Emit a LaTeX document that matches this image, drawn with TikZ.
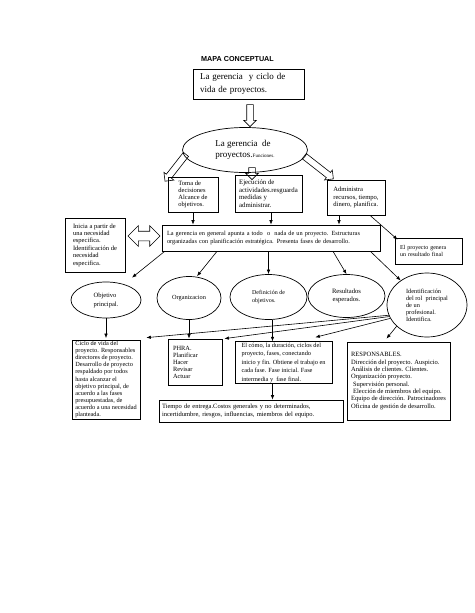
\documentclass[tikz,border=0pt]{standalone}
\usepackage{fontspec}
\setmainfont{Liberation Serif}
\newfontfamily\titulofont{Liberation Sans}
\usepackage{tikz}
\usetikzlibrary{arrows.meta,positioning,shapes.geometric,shapes.arrows,calc}
\newcommand{\tam}[2]{\fontsize{#1}{#2}\selectfont}

\begin{document}
\begin{tikzpicture}[
  x=1pt,y=-1pt,
  caja/.style={draw,line width=0.7pt,align=left,inner xsep=2pt,inner ysep=1pt},
  elip/.style={draw,ellipse,line width=0.7pt,inner sep=0pt},
  flecha/.style={-{Latex[length=4.5pt,width=3.5pt]},line width=0.6pt},
  hueca/.style={draw,single arrow,line width=0.6pt,inner sep=3pt,single arrow head extend=3pt},
  doble/.style={draw,double arrow,line width=0.6pt,inner sep=4.5pt,double arrow head extend=5.5pt}
]
  \fill[white] (0,0) rectangle (474,613);
  \useasboundingbox (0,0) rectangle (474,613);

  \node[font={\titulofont\bfseries\tam{7.2}{8}}] (titulo) at (237.5,59) {MAPA CONCEPTUAL};
  \node[caja,text width=97pt,inner xsep=7pt,minimum height=30pt,font={\tam{9}{13}}] (gerencia) at (248.5,84) {La gerencia \ y ciclo de\\vida de proyectos.};
  \node[elip,minimum width=125pt,minimum height=45pt,align=left,font={\tam{9}{10.5}}] (funciones) at (245,150) {La gerencia \ de\\proyectos.{\tam{5}{6}Funciones.}};

  % funciones
  \node[caja,minimum width=50pt,minimum height=35pt,font={\tam{6.5}{7.1}}] (decisiones) at (193,194.5) {Toma de\\decisiones\\Alcance de\\objetivos.};
  \node[caja,minimum width=67pt,minimum height=37pt,font={\tam{6.8}{7.6}}] (ejecucion) at (268.5,193.5) {Ejecución de\\actividades.resguarda\\medidas y\\administrar.};
  \node[caja,minimum width=58pt,minimum height=35pt,font={\tam{6.6}{7.1}}] (administra) at (356,197.5) {Administra\\recursos, tiempo,\\dinero, planifica.};
  \node[caja,text width=208pt,inner xsep=5pt,minimum height=26pt,font={\tam{6.3}{8}}] (general) at (271,238) {La gerencia en general apunta a todo \ o \ nada de un proyecto. Estructuras\\organizadas con planificación estratégica. Presenta fases de desarrollo.};
  \node[caja,minimum width=60pt,minimum height=54pt,font={\tam{6.5}{7.4}}] (inicia) at (95,245) {Inicia a partir de\\una necesidad\\especifica.\\Identificación de\\necesidad\\especifica.};
  \node[caja,text width=57pt,inner xsep=5pt,minimum height=26pt,font={\tam{6}{7.3}}] (resultado) at (428.5,251) {El proyecto genera\\un resultado final};

  % elipses
  \node[elip,minimum width=70pt,minimum height=36pt,align=left,font={\tam{6.5}{9}}] (objetivo) at (106,300) {Objetivo\\principal.};
  \node[elip,minimum width=64pt,minimum height=43pt,font={\tam{6.3}{7}}] (organiza) at (189,298) {Organizacion};
  \node[elip,minimum width=77pt,minimum height=45pt,align=left,font={\tam{6}{8}}] (definicion) at (268.5,297) {Definición de\\objetivos.};
  \node[elip,minimum width=77pt,minimum height=43pt,align=center,font={\tam{6.6}{8}}] (esperados) at (346.5,296) {Resultados\\esperados.};
  \node[elip,minimum width=80pt,minimum height=64pt,align=left,font={\tam{6.3}{7}}] (identifica) at (427,305) {Identificación\\del rol \ principal\\de un\\profesional.\\Identifica.};

  % cajas de abajo
  \node[caja,minimum width=68pt,minimum height=79pt,font={\tam{6.3}{7.05}}] (ciclo) at (106,379.5) {Ciclo de vida del\\proyecto. Responsables\\directores de proyecto.\\Desarrollo de proyecto\\respaldado por todos\\hasta alcanzar el\\objetivo principal, de\\acuerdo a las fases\\presupuestadas, de\\acuerdo a una necesidad\\planteada.};
  \node[caja,text width=44pt,inner xsep=5pt,minimum height=46pt,font={\tam{6.4}{7}}] (phra) at (195,362) {PHRA.\\Planificar\\Hacer\\Revisar\\Actuar};
  \node[caja,minimum width=97pt,minimum height=41pt,font={\tam{6.3}{8.5}}] (como) at (283.5,362.5) {El cómo, la duración, ciclos del\\proyecto, fases, conectando\\inicio y fin. Obtiene el trabajo en\\cada fase. Fase inicial. Fase\\intermedia y \ fase final.};
  \node[caja,text width=178pt,inner xsep=3pt,minimum height=22pt,font={\tam{6.5}{8.3}}] (tiempo) at (251,411) {Tiempo de entrega.Costos generales y no determinados,\\incertidumbre, riesgos, influencias, miembros del equipo.};
  \node[caja,minimum width=103pt,minimum height=78pt,font={\tam{6.5}{7.3}}] (responsables) at (398.5,381) {RESPONSABLES.\\Dirección del proyecto. Auspicio.\\Análisis de clientes. Clientes.\\Organización proyecto.\\\hspace*{2pt}Supervisión personal.\\\hspace*{2pt}Elección de miembros del equipo.\\Equipo de dirección. Patrocinadores\\Oficina de gestión de desarrollo.};

  % flechas huecas
  \node[hueca,minimum height=22pt,rotate=-90] (fl1) at (250,114) {};
  \node[hueca,minimum height=34pt,rotate=232] (fl2) at (176.5,166.5) {};
  \node[hueca,minimum height=12pt,rotate=-90] (fl3) at (252,172) {};
  \node[hueca,minimum height=37pt,rotate=-38] (fl4) at (317.5,166.5) {};
  \node[doble,minimum height=32pt] (fl5) at (144,236) {};

  % conectores
  \draw[flecha] (decisiones) -- (decisiones |- general.north);
  \draw[flecha] ([xshift=2.5pt]ejecucion.south) -- ([xshift=2.5pt]ejecucion.south |- general.north);
  \draw[flecha] ([xshift=-17pt]administra.south) -- ([xshift=-17pt]administra.south |- general.north);
  \draw[flecha] ([xshift=14pt]administra.south) -- ([shift={(3,2)}]resultado.north west);
  \draw[flecha] ([xshift=3pt]general.south west) -- ([shift={(26,-4)}]objetivo.north);
  \draw[flecha] ([xshift=-54pt]general.south) -- ([xshift=8pt]organiza.north);
  \draw[flecha] (definicion.north |- general.south) -- (definicion.north);
  \draw[flecha] ([xshift=62pt]general.south) -- (esperados.north);
  \draw[flecha] ([xshift=-10pt]general.south east) -- (identifica.137);
  \draw[flecha,shorten >=1.5pt] (objetivo) -- (ciclo);
  \draw[flecha] (organiza.south) -- (organiza.south |- phra.north);
  \draw[flecha] ([xshift=4pt]definicion.south) -- ([xshift=4pt]definicion.south |- como.north);
  \draw[flecha] ([xshift=-11pt]como.south) -- ([xshift=-11pt]como.south |- tiempo.north);
  \draw[flecha] (identifica.215) -- ([shift={(-12,-3)}]responsables.north);
  \draw[flecha] (identifica.195) -- ([shift={(6,-2)}]ciclo.north east);
  \draw[flecha] (identifica.197) -- ([shift={(2,0)}]phra.north east);
  \draw[flecha] (identifica.200) -- ([shift={(-17,-4)}]como.north east);
\end{tikzpicture}
\end{document}
